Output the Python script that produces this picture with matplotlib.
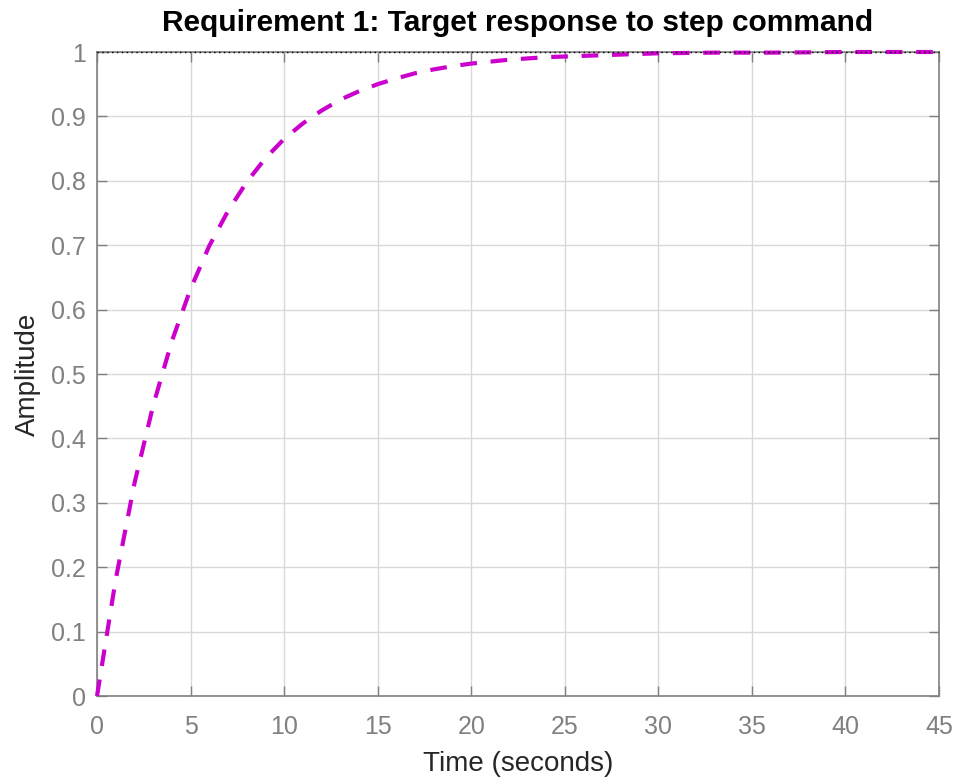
import matplotlib
matplotlib.use("Agg")
import matplotlib.pyplot as plt

# Data
time_s = [0, 1, 2, 3, 4, 5, 6, 7, 8, 9, 10, 11, 12, 13, 14, 15, 16, 17, 18, 19,
          20, 22, 24, 26, 28, 30, 33, 36, 40, 45]
amplitude = [0.0, 0.181, 0.330, 0.451, 0.551, 0.632, 0.699, 0.753, 0.798, 0.835,
             0.865, 0.889, 0.909, 0.926, 0.939, 0.950, 0.959, 0.967, 0.973, 0.978,
             0.982, 0.988, 0.992, 0.994, 0.996, 0.998, 0.999, 0.999, 1.0, 1.0]
steady_value = 1.0
x_ticks = [0, 5, 10, 15, 20, 25, 30, 35, 40, 45]
y_ticks = [0, 0.1, 0.2, 0.3, 0.4, 0.5, 0.6, 0.7, 0.8, 0.9, 1]
y_tick_labels = ["0", "0.1", "0.2", "0.3", "0.4", "0.5", "0.6", "0.7", "0.8", "0.9", "1"]

plt.rcParams['font.family'] = ['Liberation Sans', 'DejaVu Sans']

fig = plt.figure(figsize=(9.57, 7.78), dpi=100)
ax = fig.add_axes([97/957, 1-696/778, (939-97)/957, (696-52)/778])

ax.plot(time_s, amplitude, color='#cc00cc', linewidth=3.0, linestyle=(0, (4.0, 3.3)),
        zorder=3, clip_on=False)
ax.axhline(steady_value, color='black', linewidth=1.0, linestyle=(0, (1, 2.5)), zorder=4,
           clip_on=False)

ax.set_xlim(0, 45)
ax.set_ylim(0, 1)
ax.set_xticks(x_ticks)
ax.set_yticks(y_ticks)
ax.set_yticklabels(y_tick_labels)

ax.grid(True, color='#d9d9d9', linewidth=1.0)
ax.set_axisbelow(True)
for s in ax.spines.values():
    s.set_color('#808080')
    s.set_linewidth(1.2)
ax.tick_params(direction='in', length=7, width=1.0, color='#808080',
               top=True, right=True, labelsize=18, labelcolor='#808080')
ax.tick_params(axis='y', pad=8)
ax.tick_params(axis='x', pad=14)

ax.set_xlabel('Time (seconds)', fontsize=20, color='#262626', labelpad=8)
ax.set_ylabel('Amplitude', fontsize=20, color='#262626', labelpad=7)
ax.set_title('Requirement 1: Target response to step command', fontsize=21.5,
             fontweight='bold', color='black', pad=15)

fig.savefig('out.png', dpi=100)
